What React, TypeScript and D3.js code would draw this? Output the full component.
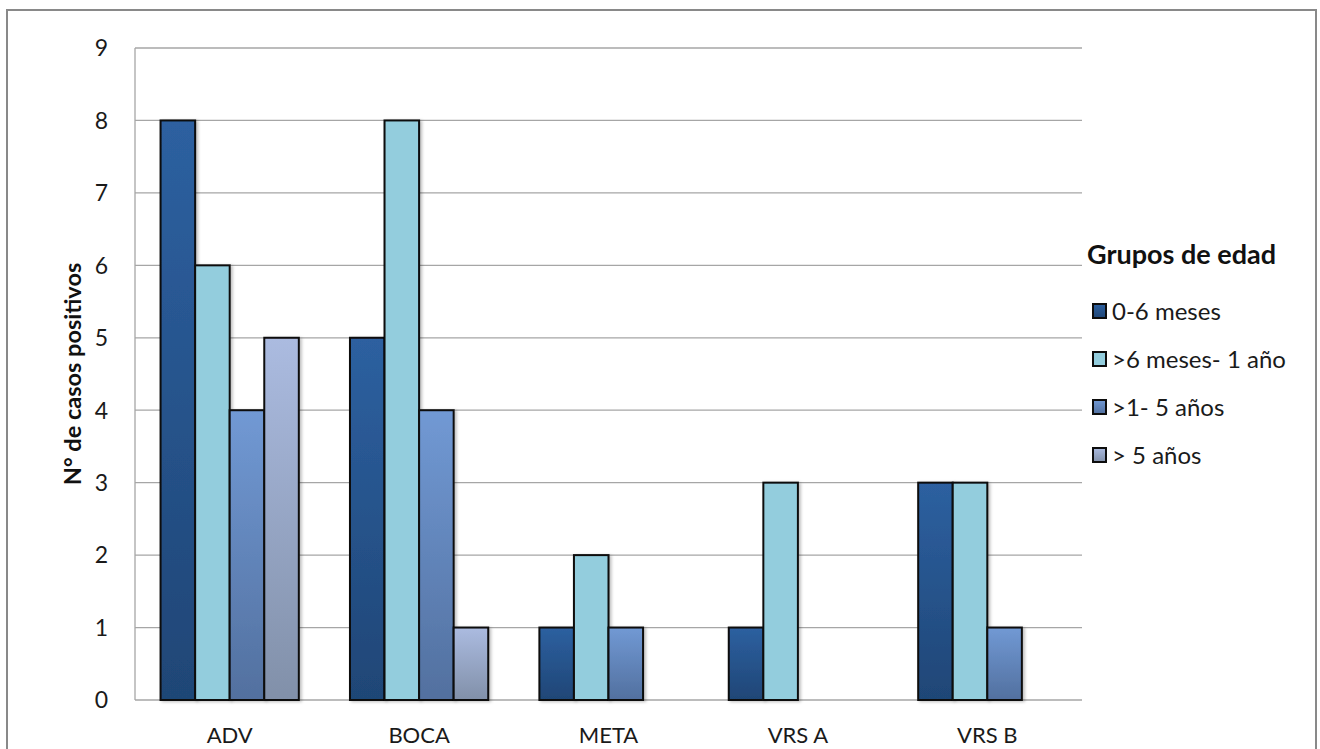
import React from "react";
import * as d3 from "d3";

// Virus categories on the x axis
const categories = ["ADV", "BOCA", "META", "VRS A", "VRS B"];

// Age groups (series)
const seriesNames = ["0-6 meses", ">6 meses- 1 año", ">1- 5 años", "> 5 años"];

// Positive cases per category, one array per age group
const group0to6m = [8, 5, 1, 1, 3];
const group6mTo1y = [6, 8, 2, 3, 3];
const group1to5y = [4, 4, 1, 0, 1];
const groupOver5y = [5, 1, 0, 0, 0];

const yTicks = [0, 1, 2, 3, 4, 5, 6, 7, 8, 9];

const seriesValues = [group0to6m, group6mTo1y, group1to5y, groupOver5y];

// Gradient stops (top, bottom) per series
const seriesFills = [
  ["#2d60a0", "#1f4676"],
  ["#93cddd", "#93cddd"],
  ["#7199d4", "#52709f"],
  ["#abbbe0", "#8190a9"],
];

const W = 1320;
const H = 749;
const plot = { left: 135, right: 1082, top: 48, bottom: 700 };
const FONT = "Lato, 'Open Sans', sans-serif";

export default function App() {
  const x0 = d3
    .scaleBand<string>()
    .domain(categories)
    .range([plot.left, plot.right])
    .paddingInner(0)
    .paddingOuter(0);

  const x1 = d3
    .scaleBand<number>()
    .domain(d3.range(seriesNames.length))
    .range([0, x0.bandwidth()])
    .paddingInner(0)
    .paddingOuter(0.74);

  const y = d3.scaleLinear().domain([0, 9]).range([plot.bottom, plot.top]);

  return (
    <svg
      width={W}
      height={H}
      style={{ position: "absolute", left: 0, top: 0, background: "#fff" }}
      fontFamily={FONT}
    >
      <defs>
        {seriesFills.map((c, i) => (
          <linearGradient key={i} id={`grad${i}`} x1="0" y1="0" x2="0" y2="1">
            <stop offset="0" stopColor={c[0]} />
            <stop offset="1" stopColor={c[1]} />
          </linearGradient>
        ))}
        <filter id="shadow" x="-20%" y="-5%" width="150%" height="115%">
          <feDropShadow dx="2" dy="1" stdDeviation="1.5" floodColor="#000" floodOpacity="0.25" />
        </filter>
      </defs>

      {/* outer chart frame */}
      <rect x={7} y={10} width={1309} height={760} fill="#fff" stroke="#898989" strokeWidth={2} />

      {/* gridlines */}
      {yTicks.map((t) => (
        <line
          key={t}
          x1={plot.left}
          x2={plot.right}
          y1={y(t)}
          y2={y(t)}
          stroke="#a6a6a6"
          strokeWidth={1.3}
        />
      ))}
      <line x1={plot.left} x2={plot.left} y1={plot.top} y2={plot.bottom} stroke="#a6a6a6" strokeWidth={1.3} />

      {/* y tick labels */}
      {yTicks.map((t) => (
        <text
          key={t}
          x={plot.left - 27}
          y={y(t)}
          dy="0.36em"
          textAnchor="end"
          fontSize={23}
          fill="#1a1a1a"
        >
          {t}
        </text>
      ))}

      {/* y axis title */}
      <text
        transform={`translate(81,${(plot.top + plot.bottom) / 2}) rotate(-90)`}
        textAnchor="middle"
        fontSize={23.5}
        fontWeight="bold"
        fill="#111"
      >
        N° de casos positivos
      </text>

      {/* bars */}
      {categories.map((cat, ci) => (
        <g key={cat} transform={`translate(${x0(cat)},0)`}>
          {seriesValues.map((vals, si) => {
            const v = vals[ci];
            if (!v) return null;
            return (
              <rect
                key={si}
                x={x1(si)}
                y={y(v)}
                width={x1.bandwidth()}
                height={y(0) - y(v)}
                fill={`url(#grad${si})`}
                stroke="#0d0d0d"
                strokeWidth={2}
                filter="url(#shadow)"
              />
            );
          })}
        </g>
      ))}

      {/* x labels */}
      {categories.map((cat) => (
        <text
          key={cat}
          x={(x0(cat) as number) + x0.bandwidth() / 2}
          y={743}
          textAnchor="middle"
          fontSize={22}
          fill="#1a1a1a"
        >
          {cat}
        </text>
      ))}

      {/* legend */}
      <text x={1087} y={264} fontSize={27} fontWeight="bold" fill="#111">
        Grupos de edad
      </text>
      {seriesNames.map((name, i) => {
        const cy = 311 + i * 48;
        return (
          <g key={name}>
            <rect
              x={1093}
              y={cy - 7}
              width={13}
              height={14}
              fill={`url(#grad${i})`}
              stroke="#0d0d0d"
              strokeWidth={2}
            />
            <text x={1112} y={cy} dy="0.36em" fontSize={24} fill="#1a1a1a">
              {name}
            </text>
          </g>
        );
      })}
    </svg>
  );
}
